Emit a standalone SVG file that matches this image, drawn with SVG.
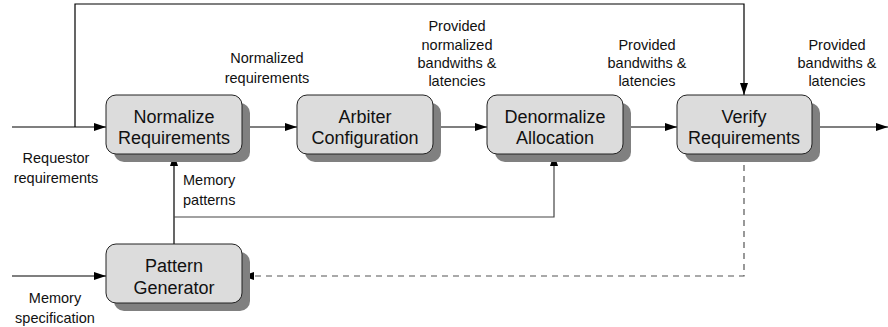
<svg xmlns="http://www.w3.org/2000/svg" width="888" height="327" viewBox="0 0 888 327">
<defs>
<marker id="ah" markerWidth="13" markerHeight="8" refX="12" refY="4" orient="auto" markerUnits="userSpaceOnUse">
<path d="M0,0 L12,4 L0,8 Z" fill="#000"/>
</marker>
<style>
.sh{fill:#808080}
.bx{fill:#dcdcdc;stroke:#222;stroke-width:1}
.bt{font-family:"Liberation Sans",Arial,sans-serif;font-size:18px;fill:#111;text-anchor:middle}
.lt{font-family:"Liberation Sans",Arial,sans-serif;font-size:14.5px;fill:#111;text-anchor:middle}
.ln{fill:none;stroke:#000;stroke-width:1.2}
.ds{fill:none;stroke:#555;stroke-width:1.2;stroke-dasharray:6,5}
</style>
</defs>
<rect width="888" height="327" fill="#fff"/>
<g id="connectors">
<path class="ln" d="M12,127 H106" marker-end="url(#ah)"/>
<path class="ln" d="M75,127 V4 H744 V95" marker-end="url(#ah)"/>
<path class="ln" d="M242,127 H297" marker-end="url(#ah)"/>
<path class="ln" d="M433,127 H487" marker-end="url(#ah)"/>
<path class="ln" d="M623,127 H677" marker-end="url(#ah)"/>
<path class="ln" d="M812,127 H888" marker-end="url(#ah)"/>
<path class="ln" d="M174,244 V154" marker-end="url(#ah)"/>
<path class="ln" d="M174,217 H554 V154" marker-end="url(#ah)" style="stroke:#444"/>
<path class="ln" d="M12,276 H106" marker-end="url(#ah)"/>
<path class="ds" d="M744,154 V276 H242" marker-end="url(#ah)"/>
</g>
<g id="normalize">
<rect class="sh" x="114" y="103" width="136" height="59" rx="10"/>
<rect class="bx" x="106" y="95" width="136" height="59" rx="10"/>
<text class="bt" x="174" y="123">Normalize</text>
<text class="bt" x="174" y="144">Requirements</text>
</g>
<g id="arbiter">
<rect class="sh" x="305" y="103" width="136" height="59" rx="10"/>
<rect class="bx" x="297" y="95" width="136" height="59" rx="10"/>
<text class="bt" x="365" y="123">Arbiter</text>
<text class="bt" x="365" y="144">Configuration</text>
</g>
<g id="denormalize">
<rect class="sh" x="495" y="103" width="136" height="59" rx="10"/>
<rect class="bx" x="487" y="95" width="136" height="59" rx="10"/>
<text class="bt" x="555" y="123">Denormalize</text>
<text class="bt" x="555" y="144">Allocation</text>
</g>
<g id="verify">
<rect class="sh" x="685" y="103" width="135" height="59" rx="10"/>
<rect class="bx" x="677" y="95" width="135" height="59" rx="10"/>
<text class="bt" x="744" y="123">Verify</text>
<text class="bt" x="744" y="144">Requirements</text>
</g>
<g id="pattern">
<rect class="sh" x="114" y="252" width="136" height="59" rx="10"/>
<rect class="bx" x="106" y="244" width="136" height="59" rx="10"/>
<text class="bt" x="174" y="272">Pattern</text>
<text class="bt" x="174" y="294">Generator</text>
</g>
<g id="labels">
<text class="lt" x="56" y="163">Requestor</text>
<text class="lt" x="56" y="183">requirements</text>
<text class="lt" x="267" y="63">Normalized</text>
<text class="lt" x="267" y="83">requirements</text>
<text class="lt" x="183" y="185" style="text-anchor:start">Memory</text>
<text class="lt" x="183" y="205" style="text-anchor:start">patterns</text>
<text class="lt" x="55" y="303">Memory</text>
<text class="lt" x="55" y="323">specification</text>
<text class="lt" x="457" y="31">Provided</text>
<text class="lt" x="457" y="50">normalized</text>
<text class="lt" x="457" y="68">bandwiths &amp;</text>
<text class="lt" x="457" y="86">latencies</text>
<text class="lt" x="647" y="50">Provided</text>
<text class="lt" x="647" y="68">bandwiths &amp;</text>
<text class="lt" x="647" y="86">latencies</text>
<text class="lt" x="837" y="50">Provided</text>
<text class="lt" x="837" y="68">bandwiths &amp;</text>
<text class="lt" x="837" y="86">latencies</text>
</g>
</svg>
